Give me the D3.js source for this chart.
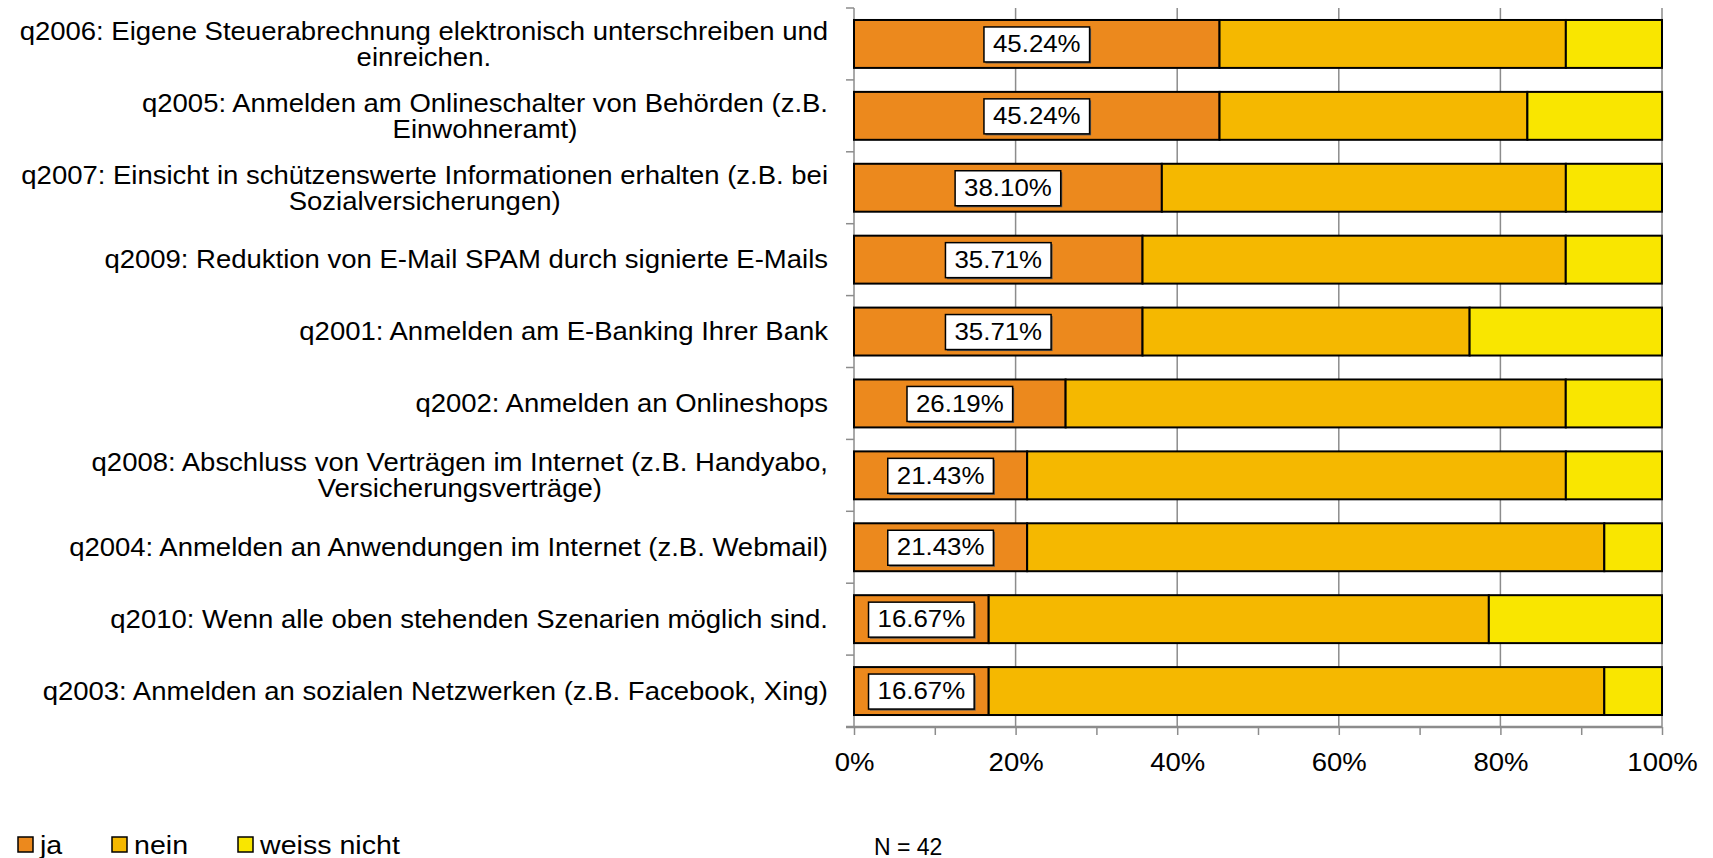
<!DOCTYPE html>
<html>
<head>
<meta charset="utf-8">
<script src="https://cdn.jsdelivr.net/npm/d3@7"></script>
<style>
  html, body { margin: 0; padding: 0; background: #fff; }
  svg { display: block; font-family: "Liberation Sans", Arial, sans-serif; }
</style>
</head>
<body>
<svg id="chart" width="1713" height="858"></svg>
<script>
// categories, top to bottom; "|" marks the line break used in the original
const categories = [
  "q2006: Eigene Steuerabrechnung elektronisch unterschreiben und|einreichen.",
  "q2005: Anmelden am Onlineschalter von Behörden (z.B.|Einwohneramt)",
  "q2007: Einsicht in schützenswerte Informationen erhalten (z.B. bei|Sozialversicherungen)",
  "q2009: Reduktion von E-Mail SPAM durch signierte E-Mails",
  "q2001: Anmelden am E-Banking Ihrer Bank",
  "q2002: Anmelden an Onlineshops",
  "q2008: Abschluss von Verträgen im Internet (z.B. Handyabo,|Versicherungsverträge)",
  "q2004: Anmelden an Anwendungen im Internet (z.B. Webmail)",
  "q2010: Wenn alle oben stehenden Szenarien möglich sind.",
  "q2003: Anmelden an sozialen Netzwerken (z.B. Facebook, Xing)"
];
const ja         = [45.24, 45.24, 38.10, 35.71, 35.71, 26.19, 21.43, 21.43, 16.67, 16.67];
const nein       = [42.86, 38.10, 50.00, 52.38, 40.48, 61.90, 66.67, 71.43, 61.90, 76.19];
const weissNicht = [11.90, 16.67, 11.90, 11.90, 23.81, 11.90, 11.90,  7.14, 21.43,  7.14];
const seriesNames = ["ja", "nein", "weiss nicht"];
const xTicks = [0, 20, 40, 60, 80, 100];
const minorTicks = d3.range(0, 101, 10);
const nLabel = "N = 42";

const colors = ["#ec891d", "#f5b800", "#f9e600"];
const STRETCH = 1.1;   // text in the original is a bit wide
const FS = 25;

const svg = d3.select("#chart");
const m = {left: 854, right: 1662, top: 8, bottom: 727};

const x = d3.scaleLinear().domain([0, 100]).range([m.left, m.right]);
const y = d3.scaleBand().domain(d3.range(categories.length))
  .range([m.top, m.bottom]).paddingInner(1/3).paddingOuter(1/6);

const rows = categories.map((c, i) => ({
  i, label: c.split("|"), values: [ja[i], nein[i], weissNicht[i]]
}));
const stack = d3.stack().keys([0, 1, 2]).value((d, k) => d.values[k])(rows);

// gridlines
svg.append("g")
  .selectAll("line").data(xTicks.slice(1)).join("line")
  .attr("x1", d => x(d)).attr("x2", d => x(d))
  .attr("y1", m.top).attr("y2", m.bottom)
  .attr("stroke", "#8c8c8c").attr("stroke-width", 1.5);

// left axis line + ticks at band boundaries
const step = y.step();
svg.append("line")
  .attr("x1", m.left).attr("x2", m.left).attr("y1", m.top).attr("y2", m.bottom)
  .attr("stroke", "#8c8c8c").attr("stroke-width", 1.5);
svg.append("g")
  .selectAll("line").data(d3.range(categories.length + 1)).join("line")
  .attr("x1", m.left - 8).attr("x2", m.left)
  .attr("y1", d => m.top + d * step).attr("y2", d => m.top + d * step)
  .attr("stroke", "#8c8c8c").attr("stroke-width", 1.5);

// bars
svg.append("g")
  .selectAll("g").data(stack).join("g")
  .attr("fill", (d, k) => colors[k])
  .selectAll("rect").data(d => d).join("rect")
  .attr("x", d => x(d[0]))
  .attr("width", d => x(d[1]) - x(d[0]))
  .attr("y", d => y(d.data.i))
  .attr("height", y.bandwidth())
  .attr("stroke", "#000").attr("stroke-width", 2);

// bottom axis
const xAxis = svg.append("g")
  .attr("transform", `translate(0,${m.bottom})`)
  .call(d3.axisBottom(x).tickValues(minorTicks).tickSize(8)
    .tickFormat(d => xTicks.includes(d) ? d + "%" : ""));
xAxis.select(".domain").remove();
xAxis.selectAll(".tick line").attr("stroke", "#8c8c8c").attr("stroke-width", 1.5);
xAxis.selectAll(".tick text")
  .attr("font-size", FS).attr("fill", "#000")
  .attr("y", 35).attr("dy", "0.35em")
  .attr("transform", `scale(${STRETCH},1)`);
xAxis.append("line")
  .attr("x1", m.left - 8).attr("x2", m.right)
  .attr("stroke", "#8c8c8c").attr("stroke-width", 2.5);

// category labels
const labelRight = 828;
const lineH = 26;
const labels = svg.append("g").selectAll("g").data(rows).join("g")
  .attr("transform", d => `translate(${labelRight},${y(d.i) + y.bandwidth() / 2}) scale(${STRETCH},1)`);
labels.each(function(d) {
  const g = d3.select(this);
  const texts = g.selectAll("text").data(d.label).join("text")
    .attr("font-size", FS).attr("fill", "#000")
    .attr("text-anchor", "middle")
    .attr("y", (t, j) => (j - (d.label.length - 1) / 2) * lineH)
    .attr("dy", "0.35em")
    .text(t => t);
  const w = d3.max(texts.nodes(), n => n.getComputedTextLength());
  texts.attr("x", -w / 2);
});

// value labels on "ja"
const vl = svg.append("g").selectAll("g").data(rows).join("g")
  .attr("transform", d => `translate(${x(d.values[0] / 2)},${y(d.i) + y.bandwidth() / 2})`);
vl.each(function(d) {
  const g = d3.select(this);
  const t = g.append("text")
    .attr("font-size", 23.5).attr("text-anchor", "middle").attr("dy", "0.35em")
    .attr("transform", `scale(${STRETCH},1)`)
    .text(d3.format(".2f")(d.values[0]) + "%");
  const w = t.node().getComputedTextLength() * STRETCH + 18;
  g.insert("rect", "text")
    .attr("x", -w / 2 + 1.5).attr("y", -17 + 1.5).attr("width", w).attr("height", 35)
    .attr("fill", "#555");
  g.insert("rect", "text")
    .attr("x", -w / 2).attr("y", -17).attr("width", w).attr("height", 35)
    .attr("fill", "#fff").attr("stroke", "#000").attr("stroke-width", 1.5);
});

// legend
const legX = [18, 112, 238];
const leg = svg.append("g").selectAll("g").data(seriesNames).join("g")
  .attr("transform", (d, k) => `translate(${legX[k]},845)`);
leg.append("rect")
  .attr("x", 0).attr("y", -8).attr("width", 15).attr("height", 15)
  .attr("fill", (d, k) => colors[k]).attr("stroke", "#000").attr("stroke-width", 1.5);
leg.append("text")
  .attr("transform", `translate(22,0) scale(${STRETCH},1)`)
  .attr("font-size", 26).attr("dy", "0.35em").text(d => d);

svg.append("text")
  .attr("transform", `translate(874,847)`)
  .attr("font-size", 23).attr("dy", "0.35em").text(nLabel);
</script>
</body>
</html>
